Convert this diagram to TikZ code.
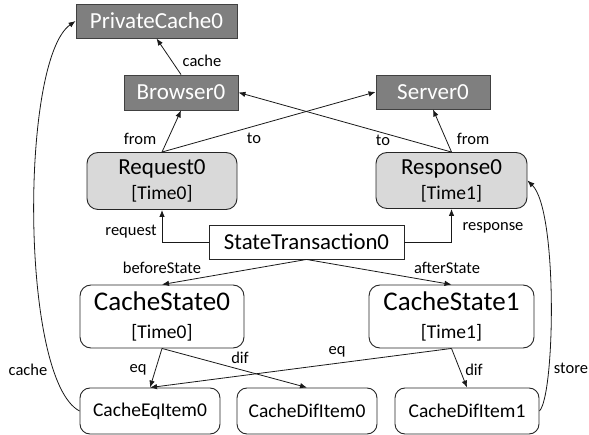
\documentclass[tikz,border=0pt]{standalone}
\usepackage{fontspec}
\setmainfont{Carlito}
\usetikzlibrary{arrows.meta}
\definecolor{darkbox}{HTML}{7F7F7F}
\definecolor{lightbox}{HTML}{D9D9D9}
\begin{document}
\begin{tikzpicture}[x=1pt,y=-1pt,
  gbox/.style={draw=black!75,fill=darkbox,text=white,line width=0.9pt,inner sep=0pt,
    font=\fontsize{23}{26}\selectfont},
  reqbox/.style={draw=black!85,fill=lightbox,rounded corners=11pt,line width=0.9pt,inner sep=0pt,align=center,
    font=\fontsize{23}{25}\selectfont},
  statebox/.style={draw=black!85,fill=white,rounded corners=11pt,line width=0.9pt,inner sep=0pt,align=center,
    font=\fontsize{27}{28}\selectfont},
  itembox/.style={draw=black!85,fill=white,rounded corners=10pt,line width=0.9pt,inner sep=0pt,
    font=\fontsize{19.5}{22}\selectfont},
  tbox/.style={draw=black!85,fill=white,line width=0.9pt,inner sep=0pt,
    font=\fontsize{22.8}{26}\selectfont},
  edge/.style={draw=black!90,line width=0.8pt,-{Latex[length=7pt,width=5.5pt]}},
  lbl/.style={font=\fontsize{16.5}{18}\selectfont,inner sep=0pt}
]
\useasboundingbox (0,0) rectangle (589,435);

\node[gbox,minimum width=161pt,minimum height=34pt] (pc) at (156.5,21) {PrivateCache0};
\node[gbox,minimum width=114pt,minimum height=35pt] (br) at (181,92.5) {Browser0};
\node[gbox,minimum width=114pt,minimum height=34pt] (sv) at (433,92) {Server0};
\node[reqbox,minimum width=150pt,minimum height=57pt] (rq) at (162,181) {Request0\\{\fontsize{19.5}{25}\selectfont[Time0]}};
\node[reqbox,minimum width=151pt,minimum height=56pt] (rs) at (451.5,180.5) {Response0\\{\fontsize{19.5}{25}\selectfont[Time1]}};
\node[tbox,minimum width=195pt,minimum height=34pt] (st) at (306.5,242) {StateTransaction0};
\node[statebox,minimum width=164pt,minimum height=63pt] (cs0) at (162,316.5) {CacheState0\\{\fontsize{19.5}{28}\selectfont[Time0]}};
\node[statebox,minimum width=165pt,minimum height=63pt] (cs1) at (451.5,316.5) {CacheState1\\{\fontsize{19.5}{28}\selectfont[Time1]}};
\node[itembox,minimum width=140pt,minimum height=46pt] (eq0) at (150,411) {CacheEqItem0};
\node[itembox,minimum width=140pt,minimum height=46pt] (dif0) at (307,411) {CacheDifItem0};
\node[itembox,minimum width=144pt,minimum height=46pt] (dif1) at (467,411) {CacheDifItem1};

% top edges
\draw[edge] (br.north) -- (pc.south);
\draw[edge] (rq.north) -- (br.south);
\draw[edge] (rq.north) -- (sv.west);
\draw[edge] (rs.north) -- (br.east);
\draw[edge] (rs.north) -- (sv.south);
% transaction
\draw[edge] (st.west) -| (rq.south);
\draw[edge] (st.east) -| (rs.south);
\draw[edge] (st.south) -- (cs0.north);
\draw[edge] (st.south) -- (cs1.north);
% states
\draw[edge] (cs0.south) -- (eq0.north);
\draw[edge] (cs0.south) -- (dif0.north);
\draw[edge] (cs1.south) -- (eq0.north);
\draw[edge] (cs1.south) -- (dif1.north);
% curves
\draw[edge] (eq0.west) .. controls (20,380) and (20,60) .. (pc.west);
\draw[edge] (dif1.east) .. controls (555,395) and (558,210) .. (rs.east);

% labels
\node[lbl] (l1) at (202,61) {cache};
\node[lbl] (l2) at (140,139) {from};
\node[lbl] (l3) at (254,138) {to};
\node[lbl] (l4) at (383,140) {to};
\node[lbl] (l5) at (473,139) {from};
\node[lbl] (l6) at (131,232) {request};
\node[lbl] (l7) at (493,228) {response};
\node[lbl] (l8) at (162,268) {beforeState};
\node[lbl] (l9) at (447,268) {afterState};
\node[lbl] (l10) at (138,370) {eq};
\node[lbl] (l11) at (240,358) {dif};
\node[lbl] (l12) at (337,352) {eq};
\node[lbl] (l13) at (474,370) {dif};
\node[lbl] (l14) at (28,370) {cache};
\node[lbl] (l15) at (571,368) {store};
\end{tikzpicture}
\end{document}
